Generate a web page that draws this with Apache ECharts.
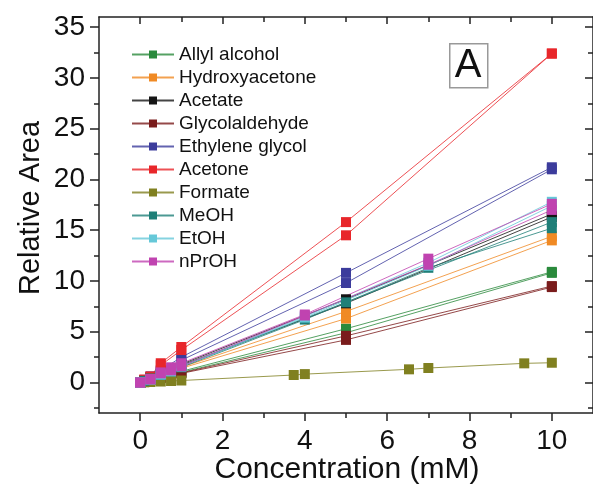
<!DOCTYPE html>
<html>
<head>
<meta charset="utf-8">
<script src="https://cdn.jsdelivr.net/npm/echarts@6/dist/echarts.min.js"></script>
<style>
  html, body { margin: 0; padding: 0; background: #fff; }
  #main { width: 593px; height: 488px; }
</style>
</head>
<body>
<div id="main"></div>
<script>
// concentrations (mM)
const conc = [0, 0.1, 0.25, 0.5, 1, 5, 10];
const concB = [0, 0.25, 0.5, 0.75, 1, 4, 7, 10];
const concFormate = [0, 0.1, 0.25, 0.5, 0.75, 1, 3.73, 4, 6.53, 7, 9.33, 10];

// relative area, two runs per compound
const allyl1 = [0, 0.12, 0.28, 0.55, 1.1, 5.3, 10.9];
const allyl2 = [0, 0.1, 0.25, 0.5, 1.0, 4.9, 10.8];
const hydroxy1 = [0, 0.15, 0.35, 0.7, 1.4, 6.3, 14.0];
const hydroxy2 = [0, 0.16, 0.4, 0.8, 1.5, 7.0, 14.4];
const acetate1 = [0, 0.18, 0.42, 0.85, 1.7, 7.8, 16.3];
const acetate2 = [0, 0.2, 0.45, 0.9, 1.8, 8.2, 16.6];
const glycol1 = [0, 0.1, 0.24, 0.48, 0.95, 4.6, 9.5];
const glycol2 = [0, 0.09, 0.22, 0.44, 0.9, 4.2, 9.4];
const eg1 = [0, 0.25, 0.6, 1.2, 2.5, 10.8, 21.2];
const eg2 = [0, 0.22, 0.55, 1.1, 2.2, 9.8, 21.0];
const acetone1 = [0, 0.3, 0.6, 1.9, 3.5, 15.8, 32.4];
const acetone2 = [0, 0.25, 0.55, 1.7, 3.2, 14.5, 32.4];
const formate = [0, 0.02, 0.05, 0.1, 0.15, 0.2, 0.74, 0.83, 1.3, 1.43, 1.89, 1.95];
const meoh1 = [0, 0.17, 0.4, 0.8, 1.6, 7.9, 15.8];
const meoh2 = [0, 0.35, 0.75, 1.1, 1.5, 6.2, 11.3, 15.2];
const etoh1 = [0, 0.3, 0.8, 1.2, 1.6, 6.5, 11.8, 17.8];
const etoh2 = [0, 0.3, 0.8, 1.1, 1.6, 6.4, 11.5, 17.4];
const nprop1 = [0, 0.3, 0.9, 1.2, 1.6, 6.6, 11.6, 17.0];
const nprop2 = [0, 0.35, 1.0, 1.5, 1.9, 6.7, 12.2, 17.6];

// tick values
const xMajor = [0, 2, 4, 6, 8, 10];
const xMinor = [1, 3, 5, 7, 9];
const yMajor = [0, 5, 10, 15, 20, 25, 30, 35];
const yMinor = [-2.5, 2.5, 7.5, 12.5, 17.5, 22.5, 27.5, 32.5];

const names = ['Allyl alcohol', 'Hydroxyacetone', 'Acetate', 'Glycolaldehyde', 'Ethylene glycol',
  'Acetone', 'Formate', 'MeOH', 'EtOH', 'nPrOH'];
const colors = ['#2a8a3c', '#f08a24', '#151515', '#7a1c1c', '#3c3c9c',
  '#e8262a', '#808020', '#1f7f78', '#66c8d8', '#c043b0'];

// each compound: list of [x array, y array]
const runs = [
  [[conc, allyl1], [conc, allyl2]],
  [[conc, hydroxy1], [conc, hydroxy2]],
  [[conc, acetate1], [conc, acetate2]],
  [[conc, glycol1], [conc, glycol2]],
  [[conc, eg1], [conc, eg2]],
  [[conc, acetone1], [conc, acetone2]],
  [[concFormate, formate]],
  [[conc, meoh1], [concB, meoh2]],
  [[concB, etoh1], [concB, etoh2]],
  [[concB, nprop1], [concB, nprop2]]
];

const FONT = "'Liberation Sans', Arial, sans-serif";

let series = [];
runs.forEach(function (list, k) {
  list.forEach(function (r) {
    series.push({
      name: names[k],
      type: 'line',
      xAxisIndex: 0,
      yAxisIndex: 0,
      symbol: 'rect',
      symbolSize: 10,
      itemStyle: { color: colors[k] },
      lineStyle: { width: 1, color: colors[k], opacity: 0.8 },
      emphasis: { disabled: true },
      data: r[0].map(function (x, i) { return [x, r[1][i]]; })
    });
  });
});

function xAxisOf(pos, ticks, len, inside, labels) {
  return {
    type: 'value', position: pos, min: -1, max: 11,
    axisLine: { show: labels, onZero: false, lineStyle: { color: '#222', width: 1.5 } },
    axisTick: { show: true, inside: inside, length: len, customValues: ticks,
      lineStyle: { color: '#222', width: 1.5 } },
    axisLabel: { show: labels, customValues: ticks, margin: 14, color: '#111',
      fontSize: 28, fontFamily: FONT },
    splitLine: { show: false }
  };
}
function yAxisOf(pos, ticks, len, inside, labels) {
  return {
    type: 'value', position: pos, min: -3, max: 36,
    axisLine: { show: labels, onZero: false, lineStyle: { color: '#222', width: 1.5 } },
    axisTick: { show: true, inside: inside, length: len, customValues: ticks,
      lineStyle: { color: '#222', width: 1.5 } },
    axisLabel: { show: labels, customValues: ticks, margin: 14, color: '#111',
      fontSize: 28, fontFamily: FONT },
    splitLine: { show: false }
  };
}

let chart = echarts.init(document.getElementById('main'), null, { renderer: 'canvas' });

let option = {
  backgroundColor: '#fff',
  animation: false,
  grid: { left: 99, right: -3, top: 17, bottom: 75 },
  xAxis: [
    xAxisOf('bottom', xMajor, 8, false, true),
    xAxisOf('bottom', xMinor, 5, false, false),
    // top frame
    Object.assign(xAxisOf('top', xMajor, 7, true, false), { axisLine: { show: true, onZero: false, lineStyle: { color: '#222', width: 1.5 } } }),
    xAxisOf('top', xMinor, 5, true, false)
  ],
  yAxis: [
    yAxisOf('left', yMajor, 9, false, true),
    yAxisOf('left', yMinor, 5, false, false),
    // right frame
    Object.assign(yAxisOf('right', yMajor, 8, true, false), { axisLine: { show: true, onZero: false, lineStyle: { color: '#222', width: 1.5 } } }),
    yAxisOf('right', yMinor, 5, true, false)
  ],
  legend: {
    orient: 'vertical',
    left: 126,
    top: 40,
    itemWidth: 42,
    itemHeight: 10,
    itemGap: 4,
    data: names,
    selectedMode: false,
    textStyle: { fontSize: 19, color: '#111', fontFamily: FONT }
  },
  graphic: [
    {
      type: 'rect', left: 449, top: 43,
      shape: { width: 38, height: 44 },
      style: { fill: '#fff', stroke: '#999', lineWidth: 1.5 }
    },
    {
      type: 'text', x: 468, y: 66,
      style: { text: 'A', fontSize: 40, fontFamily: FONT, fill: '#111',
        align: 'center', verticalAlign: 'middle' }
    },
    {
      type: 'text', x: 347, y: 470,
      style: { text: 'Concentration (mM)', fontSize: 30, fontFamily: FONT, fill: '#111',
        align: 'center', verticalAlign: 'middle' }
    },
    {
      type: 'text', x: 31, y: 208, rotation: Math.PI / 2,
      style: { text: 'Relative Area', fontSize: 29, fontFamily: FONT, fill: '#111',
        align: 'center', verticalAlign: 'middle' }
    }
  ],
  series: series
};

chart.setOption(option);
</script>
</body>
</html>
